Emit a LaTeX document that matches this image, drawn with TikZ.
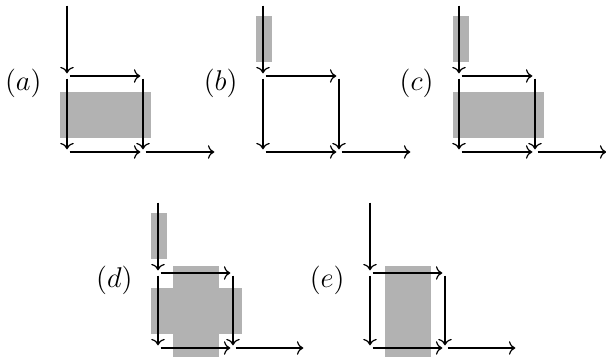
\documentclass[tikz,border=0pt]{standalone}
\usetikzlibrary{arrows.meta}
\tikzset{
  pt/.style={inner sep=0.9pt, minimum size=0pt},
  flow/.style={->, line width=0.5pt},
  blk/.style={fill=black!30, draw=none},
  lbl/.style={anchor=east, inner sep=0pt, font=\large}
}
\newcommand\flowpanel[5]{% prefix, x, y, label, grid step
\begin{scope}[shift={(#2,#3)}, name prefix=#1-]
  \node[pt] (top) at (0,-73) {};
  \node[pt] (A) at (0,0) {};
  \node[pt] (B) at (#5,0) {};
  \node[pt] (C) at (0,#5) {};
  \node[pt] (D) at (#5,#5) {};
  \node[pt] (E) at (2*#5-2,#5) {};
  \node[lbl] (L) at (-25,7) {$(#4)$};
  \draw[flow] (top) -- (A);
  \draw[flow] (A) -- (B);
  \draw[flow] (A) -- (C);
  \draw[flow] (B) -- (D);
  \draw[flow] (C) -- (D);
  \draw[flow] (D) -- (E);
\end{scope}}
\begin{document}
\begin{tikzpicture}[x=0.42pt,y=-0.42pt]
\useasboundingbox (0,0) rectangle (606,361);
% grey blocks
\fill[blk] (60,92) rectangle (151,138);
\fill[blk] (256,16) rectangle (272,62);
\fill[blk] (453,16) rectangle (469,62);
\fill[blk] (453,92) rectangle (544,138);
\fill[blk] (151,213) rectangle (167,259);
\fill[blk] (173,266) rectangle (219,357);
\fill[blk] (151,288) rectangle (242,334);
\fill[blk] (385,266) rectangle (431,357);
% panels
\flowpanel{a}{67}{76}{a}{76}
\flowpanel{b}{263}{76}{b}{76}
\flowpanel{c}{459}{76}{c}{76}
\flowpanel{d}{158}{273}{d}{75}
\flowpanel{e}{370}{273}{e}{75}
\end{tikzpicture}
\end{document}
